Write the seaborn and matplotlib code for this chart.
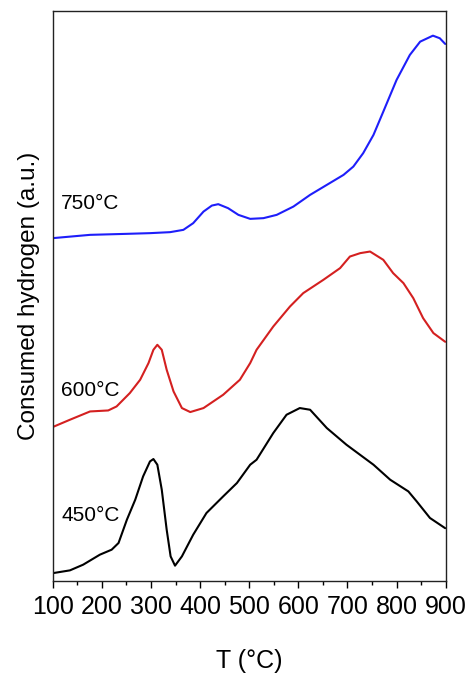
import matplotlib
matplotlib.use("Agg")
import matplotlib.pyplot as plt
import seaborn as sns
import pandas as pd
from matplotlib.ticker import MultipleLocator

sns.set_theme(style="white")
plt.rcParams['font.family'] = ['Liberation Sans', 'DejaVu Sans']
plt.rcParams['text.color'] = 'black'
plt.rcParams['axes.labelcolor'] = 'black'

# 750 °C sample (blue), signal in arbitrary units (stacked offsets included)
t_750 = [100, 176, 250, 298, 339, 366, 386, 407, 424, 437, 457, 478, 502, 529, 556, 590, 624, 658, 692,
         712, 732, 753, 773, 800, 827, 848, 874, 888, 899]
h_750 = [342.7, 346, 347, 347.7, 348.7, 351, 357.7, 369.3, 375.3, 376.7, 372.7, 366, 362, 362.7, 366, 374.3,
         386, 396, 406, 414.3, 427.7, 446, 469.3, 501, 526, 539.3, 545.3, 542.7, 537]

# 600 °C sample (red)
t_600 = [100, 135, 176, 213, 230, 257, 278, 295, 305, 313, 322, 332, 346, 363, 380, 407, 447, 481, 502,
         515, 549, 583, 610, 651, 685, 705, 726, 746, 773, 793, 814, 834, 854, 875, 899]
h_600 = [153.7, 161, 169.3, 170.3, 174.3, 187.7, 201, 217.7, 231, 236, 231, 211, 189.3, 172.7, 168.7, 172.7,
         186, 201, 217.7, 231, 254.3, 274.3, 287.7, 301, 312.7, 324.3, 327.7, 329.3, 321, 307.7, 297.7, 282.7,
         262.7, 247.7, 239]

# 450 °C sample (black)
t_450 = [100, 135, 162, 196, 220, 234, 251, 268, 284, 298, 305, 313, 322, 332, 340, 349, 363, 386, 413,
         447, 475, 502, 515, 549, 576, 603, 624, 658, 698, 753, 787, 824, 841, 868, 899]
h_450 = [7.5, 10.3, 16, 26, 31, 37.7, 61, 81, 104.3, 119.3, 121.7, 116, 91, 51, 24.3, 15, 24.3, 46, 67.7,
         84.3, 97.7, 116, 121, 147.7, 166, 172.7, 171, 152.7, 136, 116, 101, 89.3, 79.3, 62.7, 52.5]

labels = ["750°C", "600°C", "450°C"]
colors = ["#1e1efa", "#d42020", "#000000"]

df = pd.concat([
    pd.DataFrame({"T": t_750, "H": h_750, "sample": labels[0]}),
    pd.DataFrame({"T": t_600, "H": h_600, "sample": labels[1]}),
    pd.DataFrame({"T": t_450, "H": h_450, "sample": labels[2]}),
])

fig = plt.figure(figsize=(4.69, 6.73), dpi=100)
ax = fig.add_axes([0.1124, 0.1372, 0.9503 - 0.1124, 0.9837 - 0.1372])

sns.lineplot(data=df, x="T", y="H", hue="sample", palette=dict(zip(labels, colors)),
             linewidth=1.5, ax=ax, legend=False, sort=True, estimator=None)

ax.set_xlim(100, 900)
ax.set_ylim(0, 570)
ax.set_yticks([])
ax.xaxis.set_major_locator(MultipleLocator(100))
ax.xaxis.set_minor_locator(MultipleLocator(50))
ax.tick_params(axis='x', which='major', direction='out', length=5, width=1, bottom=True,
               labelsize=18, pad=5, colors='black')
ax.tick_params(axis='x', which='minor', direction='out', length=3, width=1, bottom=True, colors='black')
for s in ax.spines.values():
    s.set_color('#222222')
    s.set_linewidth(1.0)

ax.set_xlabel("T (°C)", fontsize=18, labelpad=22)
ax.set_ylabel("Consumed hydrogen (a.u.)", fontsize=17.5, labelpad=9)

# sample labels
label_y = [377, 190, 65]
for lab, yv in zip(labels, label_y):
    ax.text(117, yv, lab, fontsize=15, ha='left', va='center', color='black')

fig.savefig("out.png", dpi=100)
